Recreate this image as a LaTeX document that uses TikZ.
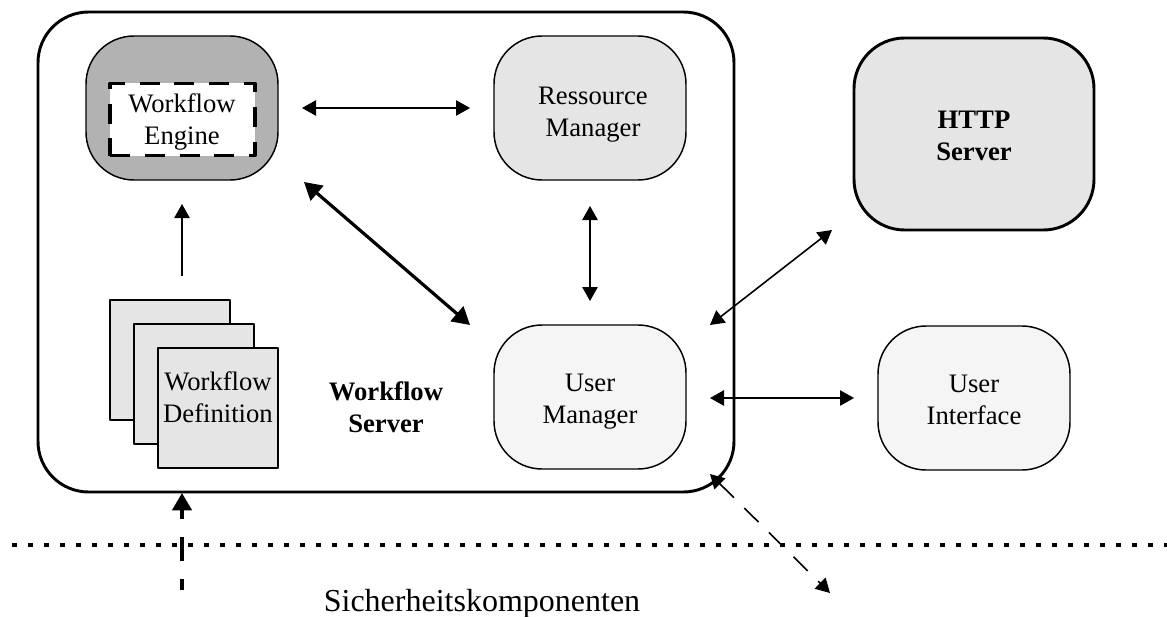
\documentclass[tikz,border=0pt]{standalone}
\usepackage{fontspec}
\setmainfont{Liberation Serif}
\usetikzlibrary{arrows.meta}
\begin{document}
\begin{tikzpicture}[x=0.75pt, y=-0.75pt, line join=round,
		>={Triangle[length=10.5pt,width=11.5pt]},
		font=\fontsize{20}{24}\selectfont,
		box/.style={draw, rounded corners=36pt, line width=1.1pt, minimum width=144pt, minimum height=108pt, inner sep=0pt, outer sep=0pt},
		doc/.style={draw, fill=docgray, line width=1.1pt, minimum size=90pt, inner sep=0pt, outer sep=0pt},
		link/.style={<->, line width=1.2pt},
		heavy/.style={line width=2.4pt, >={Triangle[length=13pt,width=14.5pt]}},
		plain/.style={inner sep=0pt, align=center}]
	\definecolor{docgray}{gray}{0.9}
	\definecolor{lightgray}{gray}{0.96}
	\definecolor{darkgray}{gray}{0.7}
	\useasboundingbox (0,0) rectangle (1167,617);
	% server frame
	\node[draw, rounded corners=38pt, line width=2.2pt, minimum width=522pt, minimum height=360pt, outer sep=0pt] (server) at (386,252) {};
	% modules
	\node[box, fill=darkgray] (engine) at (182,108) {};
	\node[draw, fill=white, line width=2.6pt, dash pattern=on 15pt off 11pt, minimum width=108.5pt, minimum height=54pt, inner sep=0pt, outer sep=0pt] (engineinner) at (182.5,119.5) {};
	\node[plain] (enginelabel) at (182,122) {Workflow\\Engine};
	\node[box, fill=docgray] (ressource) at (590,108) {};
	\node[plain] (ressourcelabel) at (593,115) {Ressource\\Manager};
	\node[box, fill=lightgray] (user) at (590,397) {};
	\node[plain] (userlabel) at (590,402) {User\\Manager};
	\node[box, fill=lightgray] (interface) at (974,398) {};
	\node[plain] (interfacelabel) at (974,400) {User\\Interface};
	\node[box, fill=docgray, line width=2.2pt, rounded corners=38pt, minimum width=180pt, minimum height=144pt] (http) at (974,134) {};
	\node[plain, font=\fontsize{20}{24}\selectfont\bfseries] (httplabel) at (974,136) {HTTP\\Server};
	% stacked definitions
	\node[doc] (docA) at (170,360) {};
	\node[doc] (docB) at (194,384) {};
	\node[doc] (docC) at (218,408) {};
	\node[plain] (doclabel) at (218,397) {Workflow\\Definition};
	\node[plain, font=\fontsize{20}{24}\selectfont\bfseries] (serverlabel) at (386,407) {Workflow\\Server};
	\node[plain, font=\fontsize{24}{28}\selectfont] (security) at (482,604) {Sicherheitskomponenten};
	% free ends
	\coordinate (docup) at ([shift={(0,96)}]engine.south);
	\coordinate (outside) at (182,590);
	\coordinate (remote) at (830,593);
	\coordinate (lineL) at (12,545);
	\coordinate (lineR) at (1167,545);
	% connectors
	\draw[link, shorten <=18pt, shorten >=18pt] (engine.east |- ressource.west) -- (ressource.west);
	\draw[->, line width=1.2pt] (docup) -- ([shift={(0,24)}]engine.south);
	\draw[link, heavy] ([shift={(26,2)}]engine.south east) -- ([shift={(-24,0)}]user.north west);
	\draw[link, shorten <=19.5pt, shorten >=18pt] (ressource.south) -- (user.north);
	\draw[link] ([shift={(24,0)}]user.north east) -- ([shift={(-22,0)}]http.south west);
	\draw[link, shorten <=18pt, shorten >=18pt] (user.east |- interface.west) -- (interface.west);
	\draw[->, heavy, dash pattern=on 18pt off 13.5pt, dash phase=10pt] (outside) -- ([shift={(0,1)}]server.south -| outside);
	\draw[<->, line width=1.2pt, dash pattern=on 15pt off 11pt] ([shift={(24,5)}]user.south east) -- (remote);
	\draw[line width=2.8pt, dash pattern=on 4pt off 8pt] (lineL) -- (lineR);
\end{tikzpicture}
\end{document}
